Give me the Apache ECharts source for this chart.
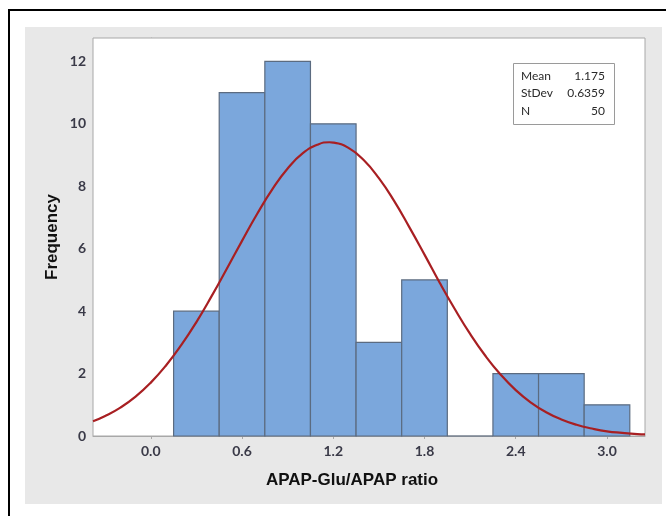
<!DOCTYPE html>
<html>
<head>
<meta charset="utf-8">
<script src="https://cdn.jsdelivr.net/npm/echarts@6/dist/echarts.min.js"></script>
<style>
html,body{margin:0;padding:0;background:#fff;}
#chart{width:666px;height:516px;}
</style>
</head>
<body>
<div id="chart"></div>
<script>
// Histogram bins: [start, end]
var binStarts = [0.15, 0.45, 0.75, 1.05, 1.35, 1.65, 1.95, 2.25, 2.55, 2.85];
var binEnds   = [0.45, 0.75, 1.05, 1.35, 1.65, 1.95, 2.25, 2.55, 2.85, 3.15];
var counts    = [4, 11, 12, 10, 3, 5, 0, 2, 2, 1];

// Fitted curve
var curveX = [-0.38, -0.3, -0.2, -0.1, 0.0, 0.1, 0.2, 0.3, 0.4, 0.5, 0.6, 0.7, 0.8, 0.9, 1.0, 1.1, 1.175, 1.2, 1.3, 1.4, 1.5, 1.6, 1.7, 1.8, 1.9, 2.0, 2.1, 2.2, 2.3, 2.4, 2.5, 2.6, 2.7, 2.8, 2.9, 3.0, 3.1, 3.2, 3.25];
var curveY = [0.47, 0.64, 0.91, 1.26, 1.71, 2.26, 2.91, 3.65, 4.48, 5.36, 6.25, 7.12, 7.91, 8.57, 9.06, 9.34, 9.41, 9.40, 9.23, 8.84, 8.26, 7.53, 6.69, 5.81, 4.91, 4.06, 3.27, 2.57, 1.97, 1.47, 1.07, 0.76, 0.53, 0.36, 0.24, 0.15, 0.10, 0.06, 0.05];

var xTicks = [0.0, 0.6, 1.2, 1.8, 2.4, 3.0];
var yTicks = [0, 2, 4, 6, 8, 10, 12];

var statLabels = ['Mean', 'StDev', 'N'];
var statValues = ['1.175', '0.6359', '50'];

var xTitle = 'APAP-Glu/APAP ratio';
var yTitle = 'Frequency';

var barData = binStarts.map(function (s, i) { return [s, binEnds[i], counts[i]]; });
var lineData = curveX.map(function (x, i) { return [x, curveY[i]]; });

var labelFont = { color: '#3a3a48', fontFamily: 'Lato', fontWeight: 'bold', fontSize: 14 };

var statGraphics = [];
statGraphics.push({
  type: 'rect', left: 513, top: 63, z: 100,
  shape: { width: 101, height: 61 },
  style: { fill: '#fff', stroke: '#9a9a9a', lineWidth: 1 }
});
statLabels.forEach(function (t, i) {
  statGraphics.push({
    type: 'text', x: 521, y: 76 + i * 17.5, z: 101,
    style: { text: t, fill: '#2a2a2a', font: '12px Lato', textVerticalAlign: 'middle' }
  });
  statGraphics.push({
    type: 'text', x: 605, y: 76 + i * 17.5, z: 101,
    style: { text: statValues[i], fill: '#2a2a2a', font: '12px Lato', textAlign: 'right', textVerticalAlign: 'middle' }
  });
});

var option = {
  animation: false,
  backgroundColor: '#fff',
  grid: { left: 93, top: 38, right: 21, bottom: 80, show: true, borderColor: '#a8a8a8', borderWidth: 1, backgroundColor: '#fff', z: 1 },
  graphic: [
    { type: 'rect', left: 25, top: 27, z: -10, shape: { width: 637, height: 477 }, style: { fill: '#e8e8e8' } },
    { type: 'line', z: 50, shape: { x1: 8, y1: 10, x2: 666, y2: 10 }, style: { stroke: '#000', lineWidth: 2 } },
    { type: 'line', z: 50, shape: { x1: 9, y1: 9, x2: 9, y2: 516 }, style: { stroke: '#000', lineWidth: 2 } },
    { type: 'text', x: 352, y: 480, z: 50, style: { text: xTitle, fill: '#111', font: 'bold 17px "Liberation Sans"', textAlign: 'center', textVerticalAlign: 'middle' } },
    { type: 'text', x: 52, y: 237, rotation: Math.PI / 2, z: 50, style: { text: yTitle, fill: '#111', font: 'bold 17px "Liberation Sans"', textAlign: 'center', textVerticalAlign: 'middle' } }
  ].concat(statGraphics),
  xAxis: {
    type: 'value', min: -0.38, max: 3.25,
    axisLine: { show: true, lineStyle: { color: '#a8a8a8' } },
    axisTick: { show: true, length: 3, lineStyle: { color: '#a8a8a8' }, customValues: xTicks },
    axisLabel: Object.assign({ margin: 8, customValues: xTicks, formatter: function (v) { return v.toFixed(1); } }, labelFont),
    splitLine: { show: false }
  },
  yAxis: {
    type: 'value', min: 0, max: 12.75,
    axisLine: { show: true, lineStyle: { color: '#a8a8a8' } },
    axisTick: { show: true, length: 3, lineStyle: { color: '#a8a8a8' }, customValues: yTicks },
    axisLabel: Object.assign({ margin: 7, customValues: yTicks }, labelFont),
    splitLine: { show: false }
  },
  series: [
    {
      type: 'custom',
      z: 2,
      data: barData,
      encode: { x: [0, 1], y: 2 },
      renderItem: function (params, api) {
        var p0 = api.coord([api.value(0), 0]);
        var p1 = api.coord([api.value(1), api.value(2)]);
        return {
          type: 'rect',
          shape: { x: p0[0], y: p1[1], width: p1[0] - p0[0], height: p0[1] - p1[1] },
          style: { fill: '#7ba7dc', stroke: '#5b6b80', lineWidth: 1.2 }
        };
      }
    },
    {
      type: 'line',
      z: 3,
      data: lineData,
      smooth: true,
      symbol: 'none',
      lineStyle: { color: '#a81f22', width: 2.2 }
    }
  ]
};

var chart = echarts.init(document.getElementById('chart'), null, { renderer: 'canvas' });
chart.setOption(option);
</script>
</body>
</html>
